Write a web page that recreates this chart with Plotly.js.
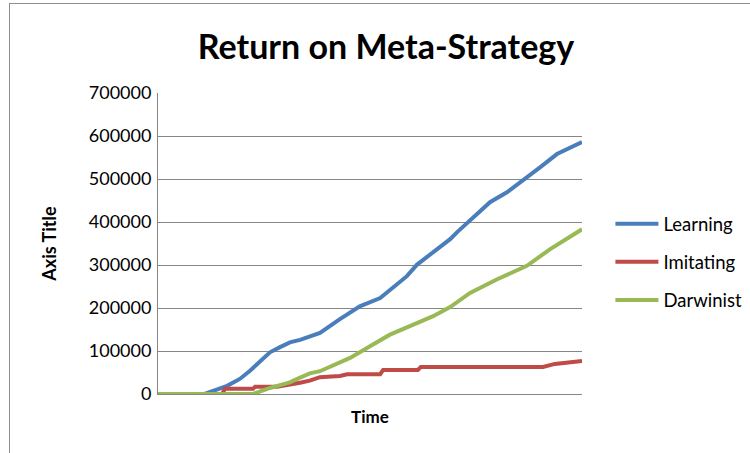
<!DOCTYPE html>
<html>
<head>
<meta charset="utf-8">
<script src="https://cdn.plot.ly/plotly-3.0.1.min.js"></script>
<style>
  html, body { margin: 0; padding: 0; background: #fff; }
  #chart { width: 750px; height: 453px; position: absolute; left: 0; top: 0; }
  #frame { position: absolute; left: 9px; top: 3px; width: 800px; height: 500px;
           border-left: 1.5px solid #8e8e8e; border-top: 1.5px solid #8e8e8e; pointer-events: none; }
</style>
</head>
<body>
<div id="chart"></div>
<div id="frame"></div>
<script>
// Time (0-100) and returns
const learningTime = [0, 11, 16.3, 19.3, 21.7, 24.1, 26.4, 28.8, 31.1, 33.5, 35.8, 38.2, 42.9, 47.6, 52.4, 54.7, 58.7, 61.1, 64.2, 68.9, 70.5, 74.3, 78.3, 82.3, 86.1, 90.1, 94.1, 97.9, 100];
const learningValues = [0, 0, 19000, 35000, 54000, 77000, 97000, 109000, 120000, 126000, 135000, 142000, 174000, 204000, 223000, 241000, 274000, 301000, 325000, 360000, 376000, 411000, 446000, 469000, 496000, 527000, 558000, 577000, 586000];

const imitatingTime = [0, 15.1, 15.8, 22.4, 22.9, 28.1, 33.5, 35.8, 38.2, 42.9, 44.6, 52.4, 53.1, 61.3, 62, 90.8, 93.6, 97.2, 100];
const imitatingValues = [0, 0, 12000, 12000, 17000, 17000, 26000, 31000, 39000, 42000, 46000, 46000, 56000, 56000, 63000, 63000, 70000, 74000, 77000];

const darwinistTime = [0, 22.4, 26.4, 31.1, 33.5, 35.8, 38.2, 45.3, 50, 54.7, 59.4, 64.9, 68.9, 73.6, 80, 87, 92.5, 100];
const darwinistValues = [0, 0, 14000, 27000, 38000, 48000, 53000, 84000, 111000, 138000, 158000, 181000, 202000, 235000, 267000, 298000, 337000, 383000];

const seriesNames = ["Learning", "Imitating", "Darwinist"];
const yTickValues = [0, 100000, 200000, 300000, 400000, 500000, 600000, 700000];
const yTickLabels = ["0", "100000", "200000", "300000", "400000", "500000", "600000", "700000"];

const colors = ["#4A7EBB", "#BE4B48", "#98B954"];
const xs = [learningTime, imitatingTime, darwinistTime];
const ys = [learningValues, imitatingValues, darwinistValues];

const traces = seriesNames.map((name, i) => ({
  type: "scatter",
  mode: "lines",
  name: name,
  x: xs[i],
  y: ys[i],
  line: { color: colors[i], width: 4 },
  legendgroup: "g" + i
}));

const font = "Lato, 'Open Sans', sans-serif";

const layout = {
  width: 750,
  height: 453,
  margin: { l: 158, r: 168, t: 93, b: 59, autoexpand: false },
  paper_bgcolor: "#ffffff",
  plot_bgcolor: "#ffffff",
  font: { family: font, color: "#000000", size: 18 },
  title: {
    text: "<b>Return on Meta-Strategy</b>",
    font: { family: font, size: 34, color: "#000000" },
    x: 386 / 750, xanchor: "center",
    y: 1 - 47 / 453, yanchor: "middle"
  },
  xaxis: {
    range: [0, 100],
    showticklabels: false,
    ticks: "",
    showgrid: false,
    zeroline: false,
    showline: true,
    linecolor: "#868686",
    linewidth: 1,
    title: { text: "<b>Time</b>", font: { family: font, size: 17 }, standoff: 17 }
  },
  yaxis: {
    range: [0, 700000],
    tickvals: yTickValues,
    ticktext: yTickLabels,
    ticks: "",
    showgrid: true,
    gridcolor: "#868686",
    gridwidth: 1,
    zeroline: false,
    showline: true,
    linecolor: "#868686",
    linewidth: 1,
    tickfont: { family: font, size: 18, color: "#000000" },
    ticklabelstandoff: 2,
    title: { text: "<b>Axis Title</b>", font: { family: font, size: 18 }, standoff: 27 }
  },
  showlegend: true,
  legend: {
    x: 1.067, xanchor: "left",
    y: 0.627, yanchor: "top",
    font: { family: font, size: 18.5, color: "#000000" },
    traceorder: "grouped",
    tracegroupgap: 11,
    itemwidth: 43,
    bgcolor: "rgba(0,0,0,0)",
    borderwidth: 0
  }
};

Plotly.newPlot("chart", traces, layout, { staticPlot: true, displayModeBar: false });
</script>
</body>
</html>
